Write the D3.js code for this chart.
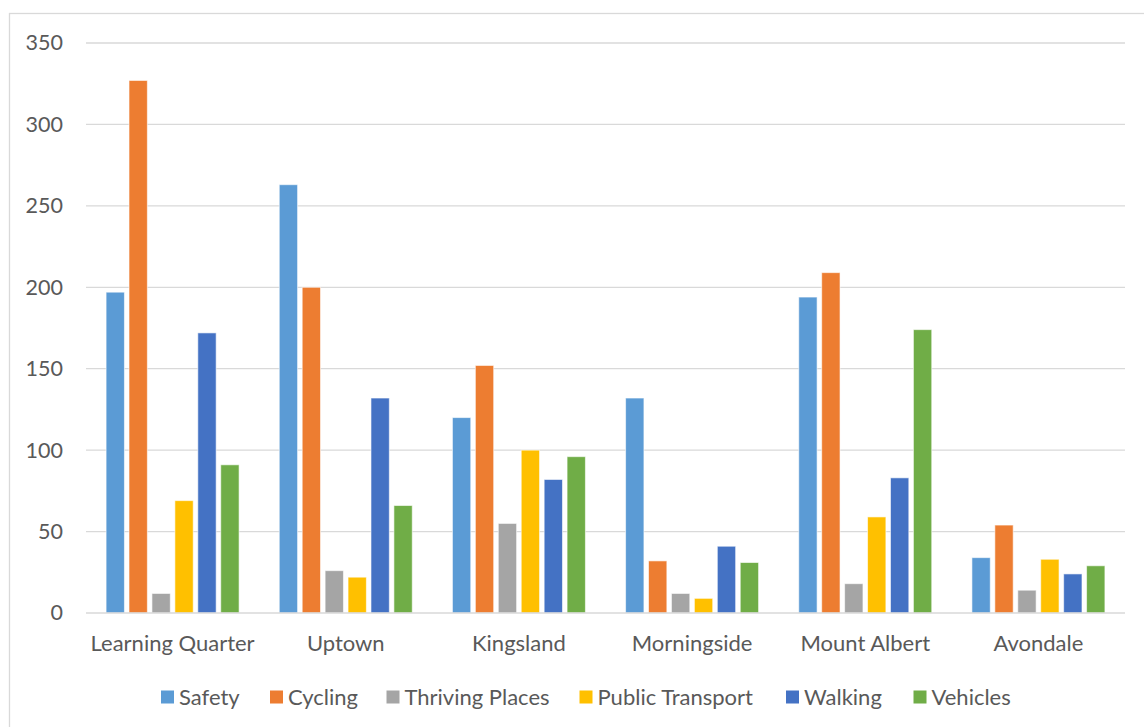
<!DOCTYPE html>
<html>
<head>
<meta charset="utf-8">
<script src="https://cdn.jsdelivr.net/npm/d3@7"></script>
<style>
  html, body { margin: 0; padding: 0; background: #ffffff; }
  svg { display: block; }
  text { font-family: Lato, "Open Sans", sans-serif; fill: #595959; }
</style>
</head>
<body>
<svg id="chart" width="1144" height="727"></svg>
<script>
// Neighbourhood categories along the x axis
const categories = ["Learning Quarter", "Uptown", "Kingsland", "Morningside", "Mount Albert", "Avondale"];

// Series names and their values per neighbourhood
const seriesNames = ["Safety", "Cycling", "Thriving Places", "Public Transport", "Walking", "Vehicles"];
const safety          = [197, 263, 120, 132, 194, 34];
const cycling         = [327, 200, 152,  32, 209, 54];
const thrivingPlaces  = [ 12,  26,  55,  12,  18, 14];
const publicTransport = [ 69,  22, 100,   9,  59, 33];
const walking         = [172, 132,  82,  41,  83, 24];
const vehicles        = [ 91,  66,  96,  31, 174, 29];

// Y axis tick values
const yTicks = [0, 50, 100, 150, 200, 250, 300, 350];

const seriesValues = [safety, cycling, thrivingPlaces, publicTransport, walking, vehicles];
const colors = ["#5b9bd5", "#ed7d31", "#a5a5a5", "#ffc000", "#4472c4", "#70ad47"];

const svg = d3.select("#chart");

// Outer chart frame
svg.append("rect")
  .attr("x", 9.5).attr("y", 13.5)
  .attr("width", 1160).attr("height", 760)
  .attr("fill", "none")
  .attr("stroke", "#d9d9d9")
  .attr("stroke-width", 1.3);

const plot = { left: 86, right: 1125, top: 43, bottom: 613 };

const x0 = d3.scaleBand()
  .domain(categories)
  .range([plot.left, plot.right])
  .paddingInner(0).paddingOuter(0);

const groupSpan = 133;
const x1 = d3.scaleBand()
  .domain(seriesNames)
  .range([(x0.bandwidth() - groupSpan) / 2, (x0.bandwidth() + groupSpan) / 2])
  .paddingInner(0.2).paddingOuter(0);

const y = d3.scaleLinear().domain([0, 350]).range([plot.bottom, plot.top]);

// Horizontal gridlines
svg.append("g")
  .selectAll("line")
  .data(yTicks.filter(d => d > 0))
  .join("line")
  .attr("x1", plot.left).attr("x2", plot.right)
  .attr("y1", d => y(d)).attr("y2", d => y(d))
  .attr("stroke", "#d9d9d9")
  .attr("stroke-width", 1.3);

// Y axis labels
const yAxis = d3.axisLeft(y).tickValues(yTicks).tickSize(0).tickPadding(0).tickFormat(d3.format("d"));
const gy = svg.append("g").attr("transform", "translate(63,0)").call(yAxis);
gy.select(".domain").remove();
gy.selectAll("text")
  .attr("font-size", 21.5)
  .attr("fill", "#595959")
  .style("font-family", "Lato, 'Open Sans', sans-serif");

// Bars
const groups = svg.append("g")
  .selectAll("g")
  .data(categories)
  .join("g")
  .attr("transform", d => `translate(${x0(d)},0)`);

groups.selectAll("rect")
  .data((c, ci) => seriesNames.map((s, si) => ({ s, si, v: seriesValues[si][ci] })))
  .join("rect")
  .attr("x", d => x1(d.s))
  .attr("width", x1.bandwidth())
  .attr("y", d => y(d.v))
  .attr("height", d => y(0) - y(d.v))
  .attr("fill", d => colors[d.si])
  .attr("stroke", "#ffffff")
  .attr("stroke-opacity", 0.6)
  .attr("stroke-width", 1);

// Baseline
svg.append("line")
  .attr("x1", plot.left).attr("x2", plot.right)
  .attr("y1", y(0)).attr("y2", y(0))
  .attr("stroke", "#d9d9d9")
  .attr("stroke-width", 1.3);

// X axis category labels
const xAxis = d3.axisBottom(x0).tickSize(0).tickPadding(0);
const gx = svg.append("g").attr("transform", `translate(0,${plot.bottom + 38})`).call(xAxis);
gx.select(".domain").remove();
gx.selectAll("text")
  .attr("dy", 0)
  .attr("font-size", 22)
  .attr("fill", "#595959")
  .style("font-family", "Lato, 'Open Sans', sans-serif");

// Legend
const legendX = [161, 270, 386.5, 579.5, 786, 913.5];
const legend = svg.append("g")
  .selectAll("g")
  .data(seriesNames)
  .join("g")
  .attr("transform", (d, i) => `translate(${legendX[i]},697)`);
legend.append("rect")
  .attr("x", 0).attr("y", -6.5)
  .attr("width", 13).attr("height", 13)
  .attr("fill", (d, i) => colors[i]);
legend.append("text")
  .attr("x", 18).attr("y", 0)
  .attr("dy", "0.35em")
  .attr("font-size", 22)
  .text(d => d);
</script>
</body>
</html>
